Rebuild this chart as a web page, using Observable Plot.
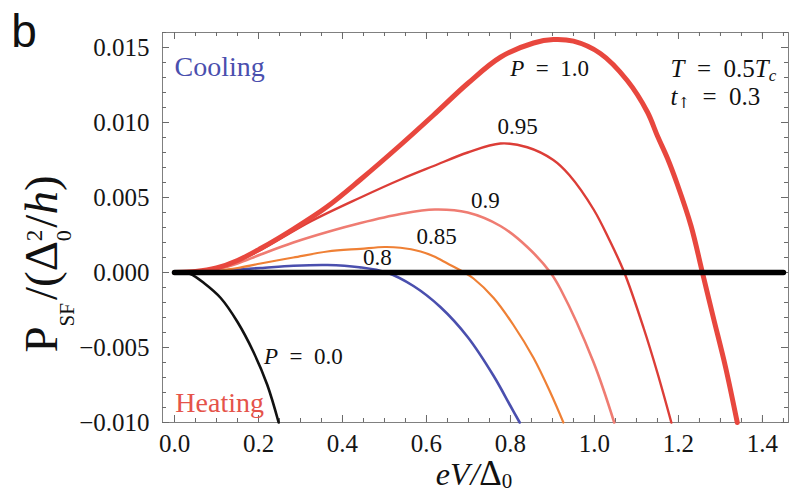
<!DOCTYPE html>
<html><head><meta charset="utf-8">
<script src="https://cdn.jsdelivr.net/npm/d3@7"></script>
<script src="https://cdn.jsdelivr.net/npm/@observablehq/plot@0.6"></script>
<style>body{margin:0;background:#fff} #chart{width:790px;height:493px}</style>
</head><body><div id="chart"></div>
<script>
// ---- data ----
const xTicks = [0, 0.2, 0.4, 0.6, 0.8, 1.0, 1.2, 1.4];
const yTicks = [-0.010, -0.005, 0.000, 0.005, 0.010, 0.015];
const xMinorTicks = d3.range(0, 1.451, 0.05);
const yMinorTicks = d3.range(-0.010, 0.01601, 0.001);

const seriesNames = ["0.0", "0.8", "0.85", "0.9", "0.95", "1.0"];

const x00 = [0, 0.02, 0.038, 0.07, 0.11, 0.15, 0.188, 0.221, 0.248];
const y00 = [0, -0.00001, -0.0001, -0.0007, -0.0017, -0.0033, -0.0053, -0.0075, -0.0100];

const x08 = [0, 0.05, 0.1, 0.15, 0.205, 0.283, 0.364, 0.44, 0.505, 0.569, 0.633, 0.698, 0.760, 0.800, 0.822];
const y08 = [0, 0.00002, 0.0001, 0.0002, 0.0003, 0.00045, 0.0005, 0.00035, 0.0, -0.0009, -0.0023, -0.0043, -0.0069, -0.0089, -0.0100];

const x085 = [0, 0.05, 0.1, 0.15, 0.205, 0.283, 0.364, 0.443, 0.50, 0.538, 0.586, 0.617, 0.650, 0.690, 0.712, 0.760, 0.807, 0.855, 0.895, 0.926];
const y085 = [0, 0.00003, 0.00013, 0.0003, 0.0006, 0.0010, 0.0014, 0.00158, 0.00170, 0.00165, 0.0014, 0.00108, 0.0006, 0.0, -0.0004, -0.0017, -0.0035, -0.0057, -0.0080, -0.0100];

const x09 = [0, 0.05, 0.1, 0.15, 0.205, 0.283, 0.364, 0.443, 0.538, 0.620, 0.698, 0.776, 0.840, 0.895, 0.919, 0.998, 1.047];
const y09 = [0, 0.00004, 0.0002, 0.0006, 0.0012, 0.0020, 0.0027, 0.0033, 0.0039, 0.0042, 0.0040, 0.0031, 0.0017, 0.0, -0.0011, -0.0060, -0.0100];

const x095 = [0, 0.05, 0.1, 0.15, 0.205, 0.324, 0.443, 0.538, 0.617, 0.698, 0.776, 0.840, 0.902, 0.94, 0.998, 1.035, 1.071, 1.117, 1.150, 1.183];
const y095 = [0, 0.00005, 0.0003, 0.0008, 0.0015, 0.0034, 0.0050, 0.0062, 0.0071, 0.0080, 0.0086, 0.00835, 0.0075, 0.0065, 0.0042, 0.0022, 0.0, -0.0037, -0.0067, -0.0100];

const x10 = [0, 0.05, 0.1, 0.15, 0.205, 0.283, 0.364, 0.443, 0.538, 0.617, 0.698, 0.776, 0.855, 0.902, 0.95, 1.014, 1.078, 1.126, 1.150, 1.174, 1.197, 1.230, 1.257, 1.283, 1.312, 1.340];
const y10 = [0, 0.00006, 0.0003, 0.0008, 0.0016, 0.0029, 0.0044, 0.0062, 0.0085, 0.0105, 0.0126, 0.01435, 0.01530, 0.01553, 0.01542, 0.0146, 0.0128, 0.0107, 0.0091, 0.0076, 0.0059, 0.0031, 0.0, -0.0030, -0.0063, -0.0100];

const zeroLineX = [0, 1.45];
const zeroLineY = [0, 0];

const curveLabels = ["P = 1.0", "0.95", "0.9", "0.85", "0.8", "P = 0.0"];
const curveLabelX = [0.893, 0.817, 0.740, 0.624, 0.483, 0.307];
const curveLabelY = [0.0136, 0.0097, 0.0048, 0.0024, 0.0010, -0.0056];

const paramLabels = ["T = 0.5T_c", "t_↑ = 0.3"];
const paramLabelX = [1.181, 1.181];
const paramLabelY = [0.0136, 0.01167];

const regionLabels = ["Cooling", "Heating"];
const regionLabelX = [0.0, 0.002];
const regionLabelY = [0.01367, -0.00873];

// ---- styles (kept apart from data) ----
const styles = {
  "0.0":  {stroke: "#111111", width: 2.6},
  "0.8":  {stroke: "#4a4fae", width: 2.6},
  "0.85": {stroke: "#ef8035", width: 2.2},
  "0.9":  {stroke: "#ef7c72", width: 2.6},
  "0.95": {stroke: "#dc3d37", width: 2.4},
  "1.0":  {stroke: "#e8473e", width: 5}
};
const regionColors = ["#4a4fae", "#e5534a"];

// ---- build tables ----
const seriesXY = {"0.0": [x00, y00], "0.8": [x08, y08], "0.85": [x085, y085], "0.9": [x09, y09], "0.95": [x095, y095], "1.0": [x10, y10]};
const lineRows = name => seriesXY[name][0].map((x, i) => ({x, y: seriesXY[name][1][i]}));
const zeroRows = zeroLineX.map((x, i) => ({x, y: zeroLineY[i]}));
const curveLab = curveLabels.map((t, i) => ({t, x: curveLabelX[i], y: curveLabelY[i]}));
const paramLab = paramLabels.map((t, i) => ({t, x: paramLabelX[i], y: paramLabelY[i]}));
const regionLab = regionLabels.map((t, i) => ({t, x: regionLabelX[i], y: regionLabelY[i], c: regionColors[i]}));

const W = 790, H = 493, mL = 162, mR = 2, mT = 32, mB = 71;
const plotW = W - mL - mR, plotH = H - mT - mB;
const serif = "'Liberation Serif', 'DejaVu Serif', serif";
const tickColor = "#6a6a6a";

const lineMarks = seriesNames.map(name => Plot.line(lineRows(name), {
  x: "x", y: "y", stroke: styles[name].stroke, strokeWidth: styles[name].width, curve: "catmull-rom"
}));

const svg = Plot.plot({
  width: W, height: H,
  marginLeft: mL, marginRight: mR, marginTop: mT, marginBottom: mB,
  x: {domain: [-0.0286, 1.462]},
  y: {domain: [-0.010, 0.016]},
  style: {background: "#fff", color: "#111"},
  marks: [
    Plot.frame({stroke: "#808080", strokeWidth: 1}),
    // inward ticks
    Plot.tickX(xTicks, {x: d => d, insetTop: plotH - 7, stroke: tickColor}),
    Plot.tickX(xMinorTicks, {x: d => d, insetTop: plotH - 4, stroke: tickColor}),
    Plot.tickX(xTicks, {x: d => d, insetBottom: plotH - 7, stroke: tickColor}),
    Plot.tickX(xMinorTicks, {x: d => d, insetBottom: plotH - 4, stroke: tickColor}),
    Plot.tickY(yTicks, {y: d => d, insetRight: plotW - 7, stroke: tickColor}),
    Plot.tickY(yMinorTicks, {y: d => d, insetRight: plotW - 4, stroke: tickColor}),
    Plot.tickY(yTicks, {y: d => d, insetLeft: plotW - 7, stroke: tickColor}),
    Plot.tickY(yMinorTicks, {y: d => d, insetLeft: plotW - 4, stroke: tickColor}),
    Plot.axisX(xTicks, {anchor: "bottom", tickSize: 0, tickPadding: 12, tickFormat: d3.format(".1f"), fontSize: 25, label: null, color: "#151515"}),
    Plot.axisY(yTicks, {anchor: "left", tickSize: 0, tickPadding: 13, tickFormat: d3.format(".3f"), fontSize: 25, label: null, color: "#151515"}),
    ...lineMarks,
    Plot.line(zeroRows, {x: "x", y: "y", stroke: "#000", strokeWidth: 5.5}),
    Plot.text(curveLab, {x: "x", y: "y", text: "t", fontSize: 23, fill: "#111", textAnchor: "middle", className: "rich"}),
    Plot.text(paramLab, {x: "x", y: "y", text: "t", fontSize: 25, fill: "#111", textAnchor: "start", className: "rich"}),
    Plot.text(regionLab, {x: "x", y: "y", text: "t", fontSize: 28, fill: "c", textAnchor: "start"})
  ]
});

const root = d3.select(svg);
// serif face on every text of the plot
root.style("font-family", serif);
root.selectAll("text").style("font-family", serif);

// rich text: single Latin letters italic, "_x" subscript, wide spaces around "="
function richify(el) {
  const s = el.textContent;
  if (!/[A-Za-z]/.test(s)) return;
  const sel = d3.select(el);
  sel.text(null);
  const re = /([A-Za-z])(?:_(.))?|([^A-Za-z]+)/g;
  let m;
  while ((m = re.exec(s))) {
    if (m[3]) sel.append("tspan").text(m[3].replace(/ /g, "\u2002"));
    else {
      sel.append("tspan").attr("font-style", "italic").text(m[1]);
      if (m[2]) {
        const sub = sel.append("tspan").attr("font-size", "0.68em").attr("baseline-shift", "-22%").text(m[2]);
        if (/[a-z]/.test(m[2])) sub.attr("font-style", "italic");
        else sub.style("font-family", "'DejaVu Serif', serif").attr("font-size", "0.6em");
      }
    }
  }
}
root.selectAll("g.rich text").each(function() { richify(this); });

// panel letter
root.append("text").attr("x", 24).attr("y", 47).style("font-family", "'Liberation Sans', Arial, sans-serif")
  .attr("font-size", 46).attr("fill", "#111").text("b");

// y-axis label
const yl = root.append("text").attr("transform", "translate(57,264) rotate(-90)")
  .attr("text-anchor", "middle").style("font-family", serif).attr("font-size", 47).attr("fill", "#111");
yl.append("tspan").text("P");
yl.append("tspan").attr("font-size", 21).attr("dy", 17).text("SF");
yl.append("tspan").attr("dy", -17).attr("dx", 3).text("/(");
yl.append("tspan").text("Δ");
yl.append("tspan").attr("font-size", 22).attr("dy", 14).text("0");
yl.append("tspan").attr("font-size", 23).attr("dx", -11).attr("dy", -29).text("2");
yl.append("tspan").attr("dy", 15).attr("dx", 2).text("/");
yl.append("tspan").attr("font-style", "italic").text("h");
yl.append("tspan").text(")");

// x-axis label
const xl = root.append("text").attr("x", 474).attr("y", 485).attr("text-anchor", "middle")
  .style("font-family", serif).attr("font-size", 32).attr("fill", "#111");
xl.append("tspan").attr("font-style", "italic").text("eV");
xl.append("tspan").attr("font-style", "italic").attr("dx", 1).text("/");
xl.append("tspan").attr("font-size", 35).text("Δ");
xl.append("tspan").attr("font-size", 21).attr("dy", 3).text("0");

document.getElementById("chart").appendChild(svg);
</script>
</body></html>
